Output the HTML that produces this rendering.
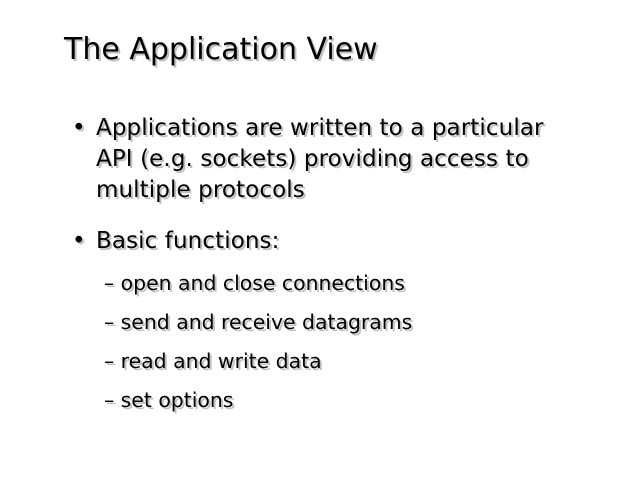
<!DOCTYPE html>
<html><head><meta charset="utf-8"><style>
html,body{margin:0;padding:0;background:#fff;}
body{width:640px;height:480px;position:relative;overflow:hidden;font-family:"DejaVu Sans","Liberation Sans",sans-serif;color:#000;}
.t{position:absolute;white-space:nowrap;text-shadow:2px 2px 0 #c0c0c0;}
.title{left:64px;top:32px;font-size:30px;}
.b{font-size:23px;letter-spacing:0.1px;}
.s{font-size:20.4px;}
</style></head><body>
<div class="t title">The Application View</div>
<div class="t b" style="left:72px;top:115px">•</div>
<div class="t b" style="left:96px;top:115px">Applications are written to a particular</div>
<div class="t b" style="left:96px;top:146px">API (e.g. sockets) providing access to</div>
<div class="t b" style="left:96px;top:177px">multiple protocols</div>
<div class="t b" style="left:72px;top:228px">•</div>
<div class="t b" style="left:96px;top:228px">Basic functions:</div>
<div class="t s" style="left:104px;top:271px">– open and close connections</div>
<div class="t s" style="left:104px;top:310px">– send and receive datagrams</div>
<div class="t s" style="left:104px;top:349px">– read and write data</div>
<div class="t s" style="left:104px;top:388px">– set options</div>
</body></html>
